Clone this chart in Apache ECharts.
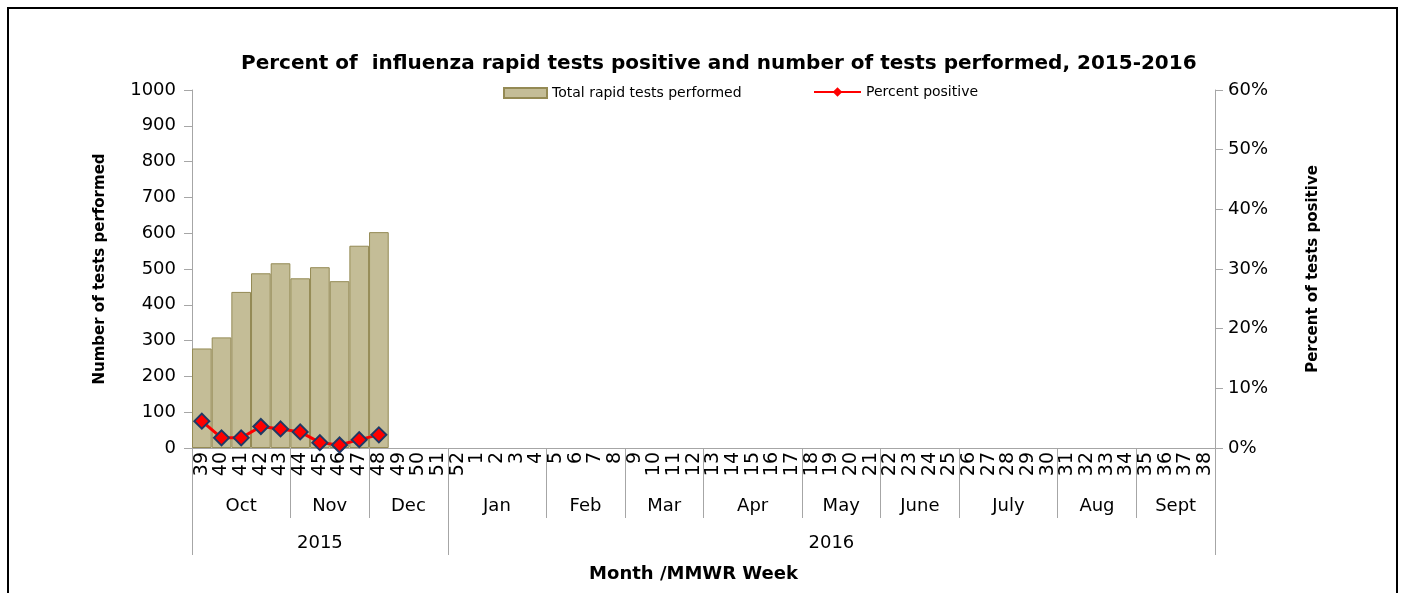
<!DOCTYPE html>
<html>
<head>
<meta charset="utf-8">
<title>Influenza rapid tests 2015-2016</title>
<script src="https://cdn.jsdelivr.net/npm/echarts@6/dist/echarts.min.js"></script>
<style>
  html, body { margin: 0; padding: 0; background: #fff; overflow: hidden; }
  #frame { position: absolute; left: 7px; top: 7px; width: 1391px; height: 620px; border: 2px solid #000; box-sizing: border-box; }
  #chart { position: absolute; left: 0; top: 0; width: 1405px; height: 593px; }
</style>
</head>
<body>
<div id="frame"></div>
<div id="chart"></div>
<script>
// MMWR weeks, season 2015-2016
const weeks = ['39','40','41','42','43','44','45','46','47','48','49','50','51','52',
  '1','2','3','4','5','6','7','8','9','10','11','12','13','14','15','16','17','18','19',
  '20','21','22','23','24','25','26','27','28','29','30','31','32','33','34','35','36','37','38'];
const months = ['Oct','Nov','Dec','Jan','Feb','Mar','Apr','May','June','July','Aug','Sept'];
const monthSpans = [5, 4, 4, 5, 4, 4, 5, 4, 4, 5, 4, 4];
const years = ['2015', '2016'];
const yearSpans = [13, 39];

// only weeks 39-48 reported so far
const testsPerformed = [278, 309, 436, 488, 516, 474, 505, 466, 565, 603];
const percentPositive = [4.5, 1.7, 1.7, 3.6, 3.2, 2.7, 0.9, 0.5, 1.4, 2.2];

const leftTicks = { min: 0, max: 1000, interval: 100 };
const rightTicks = { min: 0, max: 60, interval: 10 };

// boundaries / centres of the month and year groups, in week units
function edges(spans) {
  const e = [0];
  spans.forEach(s => e.push(e[e.length - 1] + s));
  return e;
}
function mids(spans) {
  const e = edges(spans);
  return spans.map((s, i) => e[i] + s / 2);
}
const monthEdges = edges(monthSpans);
const monthMids = mids(monthSpans);
const yearEdges = edges(yearSpans);
const yearMids = mids(yearSpans);

const FONT = 'DejaVu Sans';
const AXIS_GREY = '#a6a6a6';

const chart = echarts.init(document.getElementById('chart'));

chart.setOption({
  animation: false,
  textStyle: { fontFamily: FONT, color: '#000' },
  title: {
    text: 'Percent of  influenza rapid tests positive and number of tests performed, 2015-2016',
    left: 236,
    top: 49,
    textStyle: { fontFamily: FONT, fontSize: 20, fontWeight: 'bold', color: '#000' }
  },
  legend: [
    {
      data: [{ name: 'Total rapid tests performed', icon: 'rect' }],
      left: 498,
      top: 81,
      itemWidth: 43,
      itemHeight: 10,
      itemGap: 6,
      textStyle: { fontFamily: FONT, fontSize: 14, color: '#000' }
    },
    {
      data: ['Percent positive'],
      left: 808,
      top: 80,
      itemWidth: 47,
      itemHeight: 12,
      itemStyle: { borderColor: '#ff0000', borderWidth: 0 },
      textStyle: { fontFamily: FONT, fontSize: 14, color: '#000' }
    }
  ],
  grid: { left: 192, right: 190, top: 90, bottom: 145 },
  xAxis: [
    {
      type: 'category',
      data: weeks,
      position: 'bottom',
      boundaryGap: true,
      axisLine: { onZero: false, lineStyle: { color: AXIS_GREY } },
      axisTick: { interval: 0, length: 35, lineStyle: { color: AXIS_GREY } },
      axisLabel: { interval: 0, rotate: 90, margin: 4, fontSize: 19, color: '#000' },
      splitLine: { show: false }
    },
    {
      type: 'value',
      min: 0,
      max: weeks.length,
      position: 'bottom',
      axisLine: { show: false, onZero: false },
      axisTick: { show: true, customValues: monthEdges, length: 70, lineStyle: { color: AXIS_GREY } },
      axisLabel: {
        customValues: monthMids,
        margin: 49,
        fontSize: 18,
        color: '#000',
        formatter: v => months[monthMids.findIndex(m => Math.abs(m - v) < 1e-6)]
      },
      splitLine: { show: false }
    },
    {
      type: 'value',
      min: 0,
      max: weeks.length,
      position: 'bottom',
      name: 'Month /MMWR Week',
      nameLocation: 'middle',
      nameGap: 117,
      nameTextStyle: { fontFamily: FONT, fontSize: 18, fontWeight: 'bold', color: '#000', padding: [0, 20, 0, 0] },
      axisLine: { show: false, onZero: false },
      axisTick: { show: true, customValues: yearEdges, length: 107, lineStyle: { color: AXIS_GREY } },
      axisLabel: {
        customValues: yearMids,
        margin: 86,
        fontSize: 18,
        color: '#000',
        formatter: v => years[yearMids.findIndex(m => Math.abs(m - v) < 1e-6)]
      },
      splitLine: { show: false }
    }
  ],
  yAxis: [
    {
      type: 'value',
      min: leftTicks.min,
      max: leftTicks.max,
      interval: leftTicks.interval,
      name: 'Number of tests performed',
      nameLocation: 'middle',
      nameRotate: 90,
      nameGap: 84,
      nameTextStyle: { fontFamily: FONT, fontSize: 15, fontWeight: 'bold', color: '#000' },
      axisLine: { show: true, onZero: false, lineStyle: { color: AXIS_GREY } },
      axisTick: { show: true, length: 8, lineStyle: { color: AXIS_GREY } },
      axisLabel: { margin: 16, fontSize: 18, color: '#000', formatter: v => String(v) },
      splitLine: { show: false }
    },
    {
      type: 'value',
      min: rightTicks.min,
      max: rightTicks.max,
      interval: rightTicks.interval,
      position: 'right',
      name: 'Percent of tests positive',
      nameLocation: 'middle',
      nameRotate: 90,
      nameGap: 91,
      nameTextStyle: { fontFamily: FONT, fontSize: 15, fontWeight: 'bold', color: '#000' },
      axisLine: { show: true, onZero: false, lineStyle: { color: AXIS_GREY } },
      axisTick: { show: true, length: 8, lineStyle: { color: AXIS_GREY } },
      axisLabel: { margin: 13, fontSize: 18, color: '#000', formatter: v => v + '%' },
      splitLine: { show: false }
    }
  ],
  series: [
    {
      name: 'Total rapid tests performed',
      type: 'bar',
      xAxisIndex: 0,
      yAxisIndex: 0,
      data: testsPerformed,
      barCategoryGap: '0%',
      itemStyle: { color: '#c4bd97', borderColor: '#948a54', borderWidth: 1 }
    },
    {
      name: 'Percent positive',
      type: 'line',
      xAxisIndex: 0,
      yAxisIndex: 1,
      data: percentPositive,
      symbol: 'diamond',
      symbolSize: 15,
      lineStyle: { color: '#ff0000', width: 3 },
      itemStyle: { color: '#ff0000', borderColor: '#1f3864', borderWidth: 2 },
      z: 5
    }
  ]
});
</script>
</body>
</html>
